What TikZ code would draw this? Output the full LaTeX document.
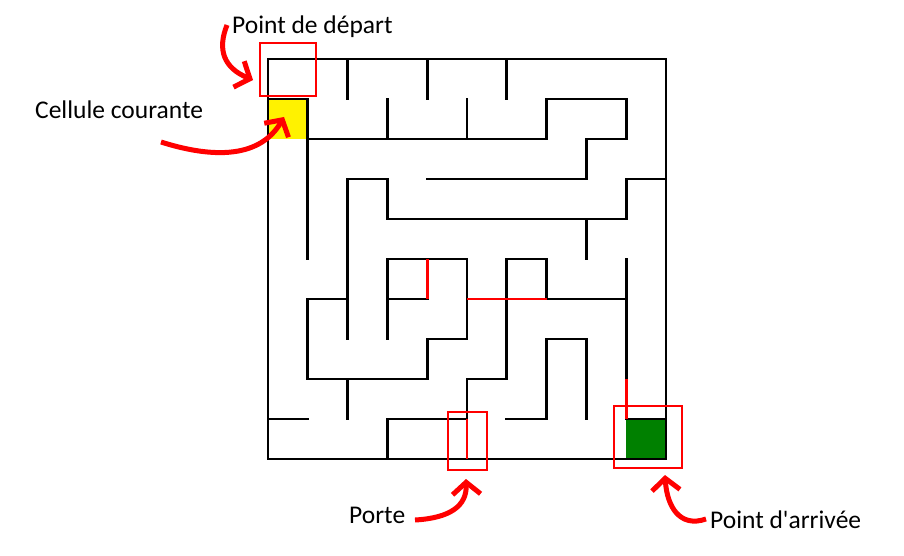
\documentclass[tikz,border=0pt]{standalone}
\usepackage{fontspec}
\setmainfont{Carlito}[Ligatures=TeXOff]
\usetikzlibrary{arrows.meta}
\begin{document}
\begin{tikzpicture}[x=1pt,y=-1pt,
  wall/.style={line width=2.9pt, line cap=rect, line join=miter, black},
  redwall/.style={line width=2.9pt, line cap=butt, red},
  annbox/.style={draw=red, line width=1.4pt, inner sep=0pt, fill=none},
  label/.style={inner sep=0pt, anchor=base west, font=\fontsize{25.5}{30}\selectfont},
  curvearrow/.style={red, line width=5pt, -{Straight Barb[length=12pt,width=28pt]}}]
\useasboundingbox (0,0) rectangle (904,556);
\fill[white] (0,0) rectangle (904,556);
\begin{scope}[shift={(268,59)}, x=39.8pt, y=-40pt]
  \fill[yellow] (0,1) rectangle (1,2);
  \fill[green!50!black] (9,9) rectangle (10,10);
  % outer walls
  \draw[line width=1.2pt] (0,10) -- (10,10);
  \draw[wall] (0,10) -- (0,0) -- (10,0) -- (10,10);
  % inner walls
  \draw[wall] (2,0) -- (2,1);
  \draw[wall] (4,0) -- (4,1);
  \draw[wall] (6,0) -- (6,1);
  \draw[wall] (0,1) -- (1,1) -- (1,5);
  \draw[wall] (3,1) -- (3,2);
  \draw[wall] (5,1) -- (5,2);
  \draw[wall] (1,2) -- (7,2) -- (7,1) -- (9,1) -- (9,2) -- (8,2) -- (8,3) -- (4,3);
  \draw[wall] (2,7) -- (2,3) -- (3,3) -- (3,4) -- (9,4) -- (9,3) -- (10,3);
  \draw[wall] (8,4) -- (8,5);
  \draw[wall] (3,7) -- (3,5) -- (5,5) -- (5,7) -- (4,7) -- (4,8) -- (1,8) -- (1,6) -- (2,6);
  \draw[wall] (3,6) -- (4,6);
  \draw[wall] (7,6) -- (9,6);
  \draw[wall] (6,8) -- (6,5) -- (7,5) -- (7,6);
  \draw[wall] (9,5) -- (9,8);
  \draw[wall] (7,9) -- (7,7) -- (8,7) -- (8,9);
  \draw[wall] (5,9) -- (5,8) -- (6,8);
  \draw[wall] (6,9) -- (7,9);
  \draw[wall] (9,9) -- (10,9);
  \draw[wall] (2,8) -- (2,9);
  \draw[wall] (0,9) -- (1,9);
  \draw[wall] (3,10) -- (3,9) -- (5,9);
  % red walls
  \draw[redwall] (4,5) -- (4,6);
  \draw[redwall] (5,6) -- (7,6);
  \draw[redwall] (9,8) -- (9,9);
  \draw[redwall] (5,9) -- (5,10);
\end{scope}
% annotation boxes
\node[annbox, minimum width=56pt, minimum height=53pt] (boxdep) at (288,69.5) {};
\node[annbox, minimum width=39pt, minimum height=58pt] (boxporte) at (467.5,441) {};
\node[annbox, minimum width=68pt, minimum height=62pt] (boxarr) at (648,437) {};
% labels
\node[label] (depart) at (232,34) {Point de départ};
\node[label] (cellule) at (35,119) {Cellule courante};
\node[label] (porte) at (349,523) {Porte};
\node[label] (arrivee) at (710,528) {Point d'arrivée};
% arrow end points
\coordinate (a1s) at (227,25);
\coordinate (a1e) at (253,80);
\coordinate (a2s) at (161,142);
\coordinate (a2e) at (284,117);
\coordinate (a3s) at (415,520);
\coordinate (a3e) at (466,479);
\coordinate (a4s) at (706,519);
\coordinate (a4e) at (665,475);
\draw[curvearrow] (a1s) .. controls (217,50) and (224,68) .. (a1e);
\draw[curvearrow] (a2s) .. controls (205,156) and (258,162) .. (a2e);
\draw[curvearrow] (a3s) .. controls (450,518) and (467,506) .. (a3e);
\draw[curvearrow] (a4s) .. controls (680,528) and (667,507) .. (a4e);
\end{tikzpicture}
\end{document}
